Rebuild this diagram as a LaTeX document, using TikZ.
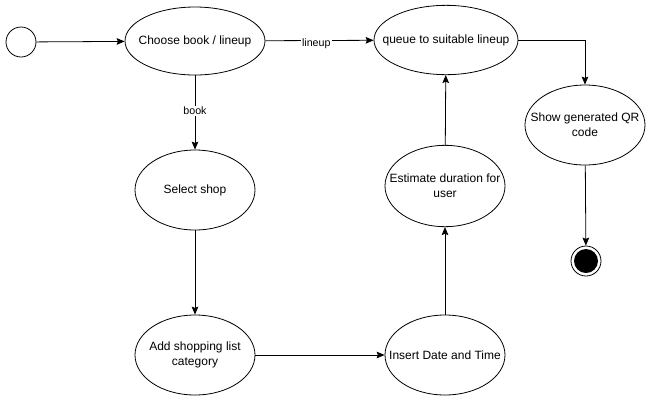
\documentclass[tikz,border=0pt]{standalone}
\usepackage{fontspec}
\setmainfont{Liberation Sans}
\usetikzlibrary{shapes.geometric,arrows.meta}

\tikzset{
  activity/.style={draw,ellipse,inner xsep=-14pt,inner ysep=0pt,align=center,font=\fontsize{9}{11}\selectfont,minimum width=90pt,minimum height=60pt},
  flow/.style={-{Stealth[length=6pt,width=5pt,inset=1pt]}},
  guard/.style={fill=white,inner sep=1pt,font=\fontsize{8}{10}\selectfont}
}

\begin{document}
\begin{tikzpicture}[x=0.75pt,y=-0.75pt,line width=0.6pt]
    \useasboundingbox (0,0) rectangle (651,401);
    % states
    \node[draw,circle,minimum size=22.5pt,inner sep=0pt] (start) at (21,42) {};
    \node[activity,minimum width=105pt,minimum height=51pt] (choose) at (195,41) {Choose book / lineup};
    \node[activity,minimum width=108pt,minimum height=52pt] (queue) at (446,40) {queue to suitable lineup};
    \node[activity] (shop) at (195,190) {Select shop};
    \node[activity] (list) at (195,355) {Add shopping list\\category};
    \node[activity] (date) at (445,355) {Insert Date and Time};
    \node[activity,minimum height=61pt] (estimate) at (445,186) {Estimate duration for\\user};
    \node[activity] (qr) at (585,125) {Show generated QR\\code};
    \node[draw,circle,minimum size=22.5pt,inner sep=0pt] (stop) at (586,261) {};
    \fill (stop.center) circle (9pt);
    % transitions
    \draw[flow] (start) -- (choose);
    \draw[flow] (choose) -- node[guard,pos=0.47,yshift=-2.5pt] {lineup} (queue);
    \draw[flow] (choose) -- node[guard,pos=0.48] {book} (shop);
    \draw[flow] (shop) -- (list);
    \draw[flow] (list) -- (date);
    \draw[flow] (date) -- (estimate);
    \draw[flow] (estimate) -- (queue);
    \draw[flow] (queue.east) -| (qr.north);
    \draw[flow] (qr) -- (stop);
\end{tikzpicture}
\end{document}
